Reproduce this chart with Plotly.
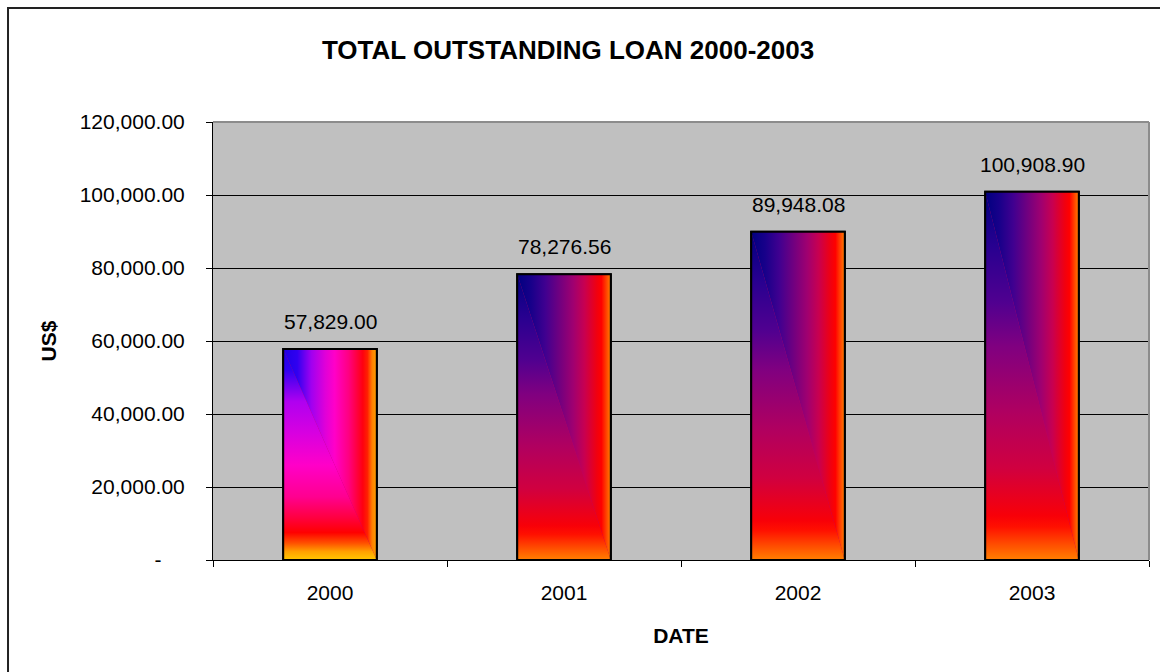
import base64
import plotly.graph_objects as go

# ---- data ----
years = ["2000", "2001", "2002", "2003"]
loans = [57829.00, 78276.56, 89948.08, 100908.90]
y_tickvals = [0, 20000, 40000, 60000, 80000, 100000, 120000]
y_ticktext = ["-\u00a0\u00a0\u00a0\u00a0", "20,000.00", "40,000.00", "60,000.00",
              "80,000.00", "100,000.00", "120,000.00"]

# ---- style ----
FONT = "Liberation Sans, Arial, sans-serif"
BAR_W = 0.4

bright_h = [(0, "#1E00E6"), (0.15, "#3000F0"), (0.3, "#A000F0"), (0.45, "#E000D8"),
            (0.55, "#FF00C8"), (0.7, "#FF0080"), (0.85, "#FF0010"), (0.9, "#FF2000"),
            (0.95, "#FF8000"), (1, "#FFA000")]
bright_v = [(0, "#1E00E6"), (0.1, "#3000F0"), (0.25, "#B000F0"), (0.4, "#D800E0"),
            (0.55, "#FF00C8"), (0.7, "#FF0090"), (0.8, "#FF0040"), (0.87, "#FF0000"),
            (0.92, "#FF5000"), (0.96, "#FFA000"), (1, "#FFC800")]
dark_h = [(0, "#000080"), (0.15, "#18008A"), (0.3, "#400090"), (0.45, "#700080"),
          (0.6, "#A00070"), (0.72, "#C80050"), (0.85, "#F00010"), (0.9, "#FF0000"),
          (0.95, "#FF4000"), (1, "#FF8000")]
dark_v = [(0, "#000080"), (0.15, "#280090"), (0.3, "#500090"), (0.42, "#800080"),
          (0.6, "#B00060"), (0.75, "#D00040"), (0.88, "#F80008"), (0.91, "#FF1000"),
          (0.96, "#FF5000"), (1, "#FF8000")]
palettes = [(bright_h, bright_v), (dark_h, dark_v), (dark_h, dark_v), (dark_h, dark_v)]


def stops(lst):
    return "".join(f'<stop offset="{o}" stop-color="{c}"/>' for o, c in lst)


def gradient_uri(h, v):
    svg = ('<svg xmlns="http://www.w3.org/2000/svg" width="100" height="100" '
           'viewBox="0 0 100 100" preserveAspectRatio="none"><defs>'
           f'<linearGradient id="h" x1="0" y1="0" x2="1" y2="0">{stops(h)}</linearGradient>'
           f'<linearGradient id="v" x1="0" y1="0" x2="0" y2="1">{stops(v)}</linearGradient>'
           '</defs>'
           '<polygon points="0,0 100,0 100,100" fill="url(#h)"/>'
           '<polygon points="0,0 0,100 100,100" fill="url(#v)"/>'
           '</svg>')
    return "data:image/svg+xml;base64," + base64.b64encode(svg.encode()).decode()


fig = go.Figure()
fig.add_trace(go.Bar(
    x=years, y=loans, width=BAR_W,
    marker=dict(color="#C00060", line=dict(color="black", width=2)),
    hoverinfo="x+y",
))

images = []
shapes = []
annotations = []
for i, val in enumerate(loans):
    h, v = palettes[i]
    images.append(dict(source=gradient_uri(h, v), xref="x", yref="y",
                       x=i - BAR_W / 2, y=val, sizex=BAR_W, sizey=val,
                       xanchor="left", yanchor="top", sizing="stretch", layer="above"))
    shapes.append(dict(type="rect", xref="x", yref="y", x0=i - BAR_W / 2, x1=i + BAR_W / 2,
                       y0=0, y1=val, line=dict(color="black", width=2), layer="above"))
    annotations.append(dict(x=i, y=val, xref="x", yref="y", text=f"{val:,.2f}",
                            showarrow=False, yanchor="bottom", yshift=14,
                            font=dict(family=FONT, size=21, color="black")))

# plot frame (top/right gray) and outer chart border
shapes += [
    dict(type="line", xref="paper", yref="paper", x0=0, x1=1, y0=1, y1=1,
         line=dict(color="#8C8C8C", width=2), layer="above"),
    dict(type="line", xref="paper", yref="paper", x0=1, x1=1, y0=0, y1=1,
         line=dict(color="#8C8C8C", width=2), layer="above"),
    dict(type="rect", xref="paper", yref="paper", x0=-0.219, x1=1.2, y0=-0.5, y1=1.26,
         line=dict(color="#222222", width=2), fillcolor="rgba(0,0,0,0)", layer="below"),
]

fig.update_layout(
    width=1160, height=672,
    margin=dict(l=213, r=11, t=122, b=112),
    paper_bgcolor="white", plot_bgcolor="#C0C0C0",
    showlegend=False,
    font=dict(family=FONT, size=21, color="black"),
    title=dict(text="TOTAL OUTSTANDING LOAN 2000-2003", xref="container", yref="container",
               x=0.4897, xanchor="center", y=1 - 50 / 672, yanchor="middle",
               font=dict(family=FONT, size=26, color="black", weight="bold")),
    xaxis=dict(type="category", range=[-0.5, 3.5], tickson="boundaries", ticks="outside",
               ticklen=6, tickcolor="black", showline=True, linecolor="black", linewidth=1,
               showgrid=False, tickfont=dict(size=21), ticklabelstandoff=14, tickangle=0,
               title=dict(text="DATE", standoff=25,
                          font=dict(family=FONT, size=21, weight="bold"))),
    yaxis=dict(range=[0, 120000], tickvals=y_tickvals, ticktext=y_ticktext,
               ticks="outside", ticklen=6, tickcolor="black", showline=True,
               linecolor="black", linewidth=1, showgrid=True, gridcolor="black",
               gridwidth=1, zeroline=False, tickfont=dict(size=21), ticklabelstandoff=17,
               title=dict(text="US$", standoff=17,
                          font=dict(family=FONT, size=21, weight="bold"))),
    images=images, shapes=shapes, annotations=annotations,
)

fig.write_html("out.html")
